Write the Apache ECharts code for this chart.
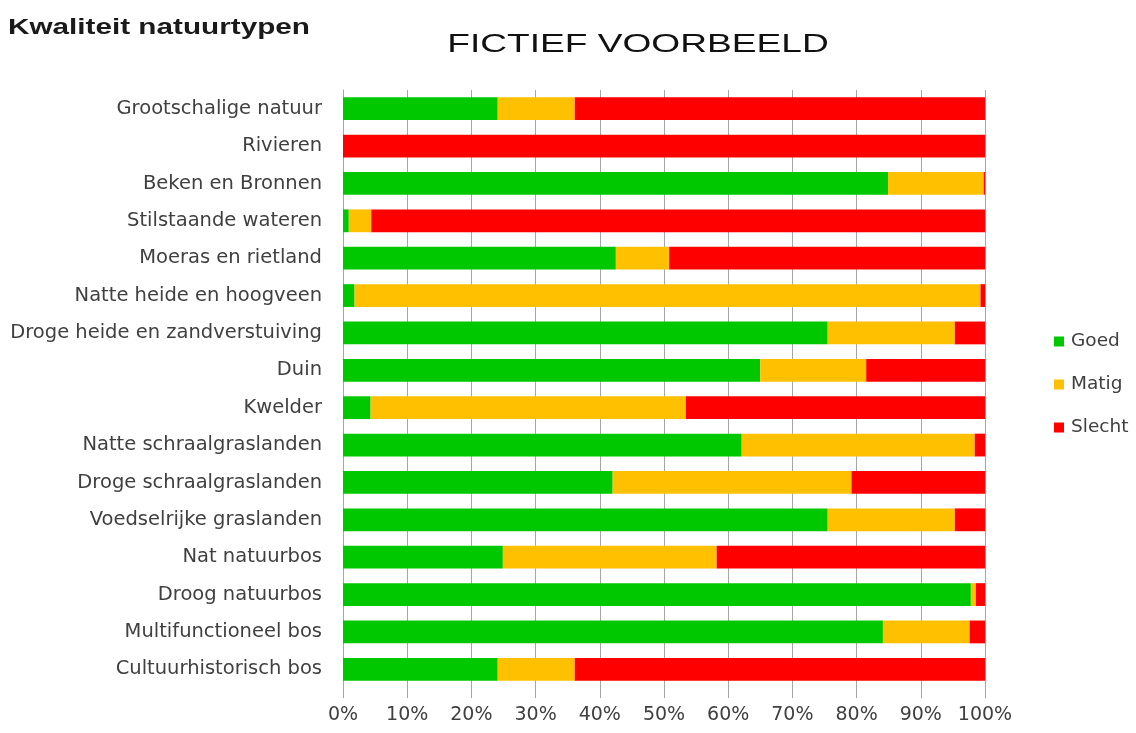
<!DOCTYPE html>
<html><head><meta charset="utf-8">
<script src="https://cdn.jsdelivr.net/npm/echarts@6/dist/echarts.min.js"></script>
<style>html,body{margin:0;padding:0;background:#fff}#c{width:1136px;height:733px}</style>
</head><body><div id="c"></div>
<script>
const categories = ["Grootschalige natuur","Rivieren","Beken en Bronnen","Stilstaande wateren","Moeras en rietland","Natte heide en hoogveen","Droge heide en zandverstuiving","Duin","Kwelder","Natte schraalgraslanden","Droge schraalgraslanden","Voedselrijke graslanden","Nat natuurbos","Droog natuurbos","Multifunctioneel bos","Cultuurhistorisch bos"];
const goed   = [24.1, 0, 84.9, 0.9, 42.5, 1.8, 75.5, 65.0, 4.3, 62.1, 42.0, 75.5, 24.9, 97.8, 84.1, 24.1];
const matig  = [12.0, 0, 14.9, 3.5, 8.3, 97.5, 19.8, 16.5, 49.1, 36.3, 37.2, 19.8, 33.3, 0.8, 13.5, 12.0];
const slecht = [63.9, 100, 0.2, 95.6, 49.2, 0.7, 4.7, 18.5, 46.6, 1.6, 20.8, 4.7, 41.8, 1.4, 2.4, 63.9];
const seriesNames = ["Goed","Matig","Slecht"];
const titleText = "Kwaliteit natuurtypen";
const subtitleText = "FICTIEF VOORBEELD";

const colors = ["#00c800","#ffc000","#ff0000"];
const labelFont = 'DejaVu Sans, Open Sans, sans-serif';
const chart = echarts.init(document.getElementById('c'));
const mk = (name, data, i) => ({
  name, type: 'bar', stack: 'total', data, barWidth: '61%',
  itemStyle: {color: colors[i]}, emphasis: {disabled: true}
});
chart.setOption({
  animation: false,
  graphic: [
    {type: 'text', x: 8, y: 28, scaleX: 1.35, originX: 0,
     style: {text: titleText, font: 'bold 22px "Liberation Sans", Arial, sans-serif', fill: '#1a1a1a', verticalAlign: 'middle', align: 'left'}},
    {type: 'text', x: 638, y: 45, scaleX: 1.4,
     style: {text: subtitleText, font: 'normal 26.5px "Liberation Sans", Arial, sans-serif', fill: '#111', verticalAlign: 'middle', align: 'center'}}
  ],
  legend: {
    orient: 'vertical', left: 1049, top: 327, itemGap: 24, itemWidth: 10, itemHeight: 10, icon: 'rect',
    data: seriesNames,
    textStyle: {fontFamily: labelFont, fontSize: 18.5, color: '#404040', padding: [0,0,0,2]}
  },
  grid: {left: 343, right: 151, top: 90, bottom: 45, containLabel: false},
  xAxis: {
    type: 'value', min: 0, max: 100, interval: 10,
    axisLine: {show: false},
    axisTick: {show: true, length: 10, lineStyle: {color: '#a6a6a6'}},
    splitLine: {show: true, lineStyle: {color: '#a6a6a6', width: 1}},
    axisLabel: {formatter: v => v + '%', fontFamily: labelFont, fontSize: 19, color: '#404040', margin: 18}
  },
  yAxis: {
    type: 'category', data: categories, inverse: true,
    axisLine: {show: true, lineStyle: {color: '#a6a6a6'}},
    axisTick: {show: false},
    axisLabel: {fontFamily: labelFont, fontSize: 19.5, color: '#404040', margin: 21}
  },
  series: [mk(seriesNames[0], goed, 0), mk(seriesNames[1], matig, 1), mk(seriesNames[2], slecht, 2)]
});
</script></body></html>
